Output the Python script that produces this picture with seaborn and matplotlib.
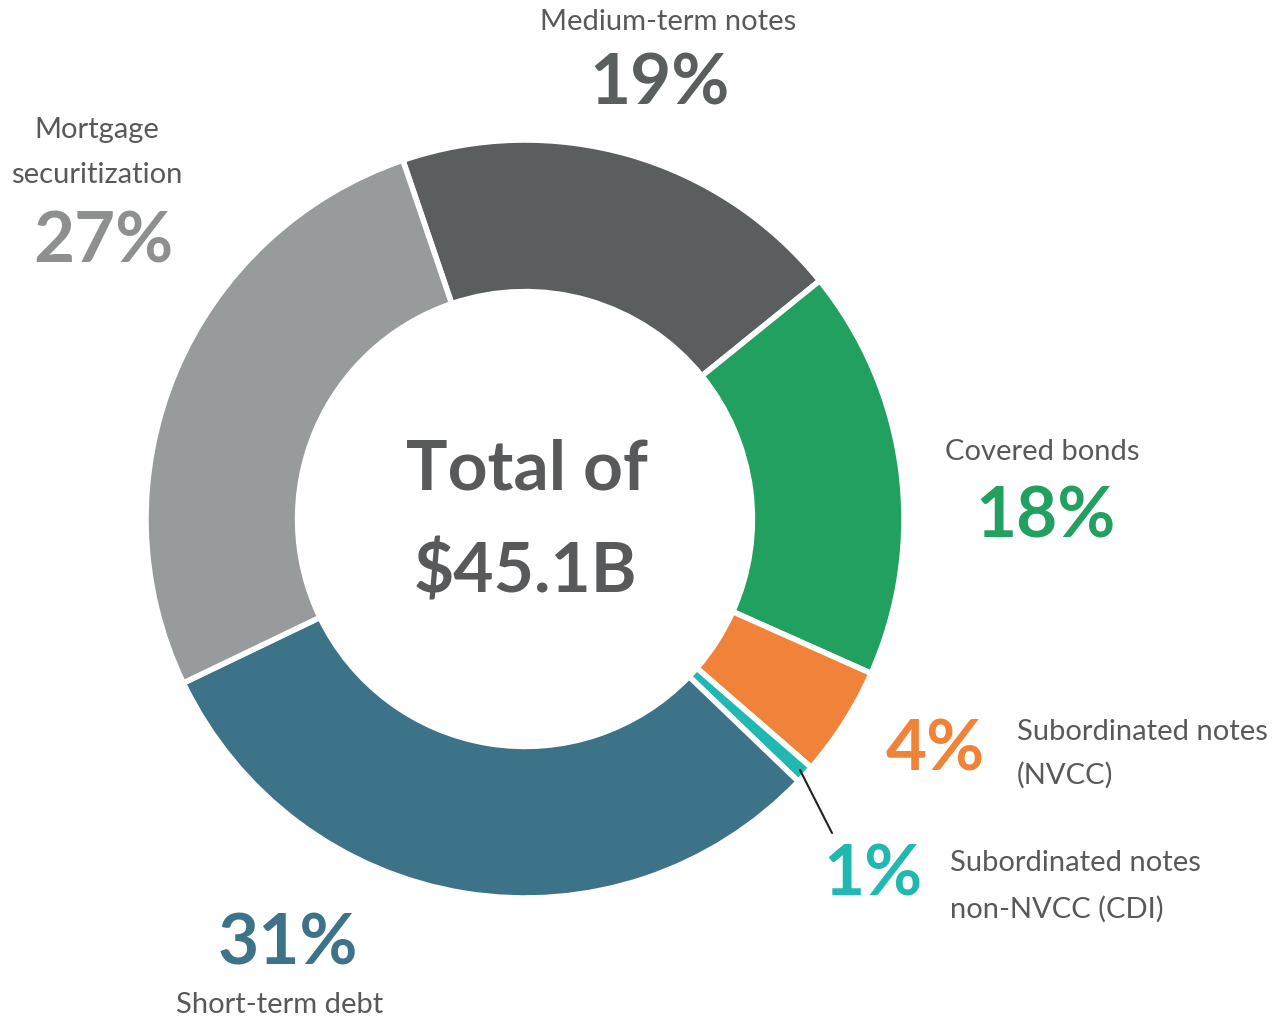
import matplotlib
matplotlib.use("Agg")
import matplotlib.pyplot as plt
import seaborn as sns

sns.set_theme(style="white")
plt.rcParams['font.family'] = ['Lato', 'DejaVu Sans']

# Data
categories = ["Medium-term notes", "Covered bonds", "Subordinated notes (NVCC)",
              "Subordinated notes non-NVCC (CDI)", "Short-term debt", "Mortgage securitization"]
shares = [19.4, 17.5, 4.7, 0.8, 30.7, 26.9]
pct_labels = ["19%", "18%", "4%", "1%", "31%", "27%"]
colors = ["#5a5e5f", "#21a060", "#f0823a", "#20b8b0", "#3c7389", "#989b9b"]
total_label = ["Total of", "$45.1B"]

W, H = 1273, 1025
fig = plt.figure(figsize=(W / 100, H / 100), dpi=100)
ax = fig.add_axes([0, 0, 1, 1])

cx, cy, R = 525, H - 519, 379
ax.pie(shares, colors=colors, startangle=108.8, counterclock=False,
       center=(cx, cy), radius=R, frame=True,
       wedgeprops=dict(width=R * 0.40, edgecolor="white", linewidth=4))
ax.set_xlim(0, W)
ax.set_ylim(0, H)
ax.set_aspect("equal")
ax.axis("off")

def T(x, y, s, size, color, weight="normal", ha="center"):
    ax.text(x, H - y, s, fontsize=size, color=color, fontweight=weight,
            ha=ha, va="center")

lab = "#58595b"
LS = 21
PS = 51
T(668, 22, "Medium-term notes", LS, lab)
T(660, 84, pct_labels[0], PS, colors[0], "bold")
T(97, 130, "Mortgage", LS, lab)
T(97, 175, "securitization", LS, lab)
T(103, 242, pct_labels[5], PS, "#8e9090", "bold")
T(1042, 452, "Covered bonds", LS, lab)
T(1046, 517, pct_labels[1], PS, colors[1], "bold")
T(935, 750, pct_labels[2], PS, colors[2], "bold")
T(1017, 732, "Subordinated notes", LS, lab, ha="left")
T(1017, 775, "(NVCC)", LS, lab, ha="left")
T(873, 875, pct_labels[3], PS, colors[3], "bold")
T(950, 863, "Subordinated notes", LS, lab, ha="left")
T(950, 909, "non-NVCC (CDI)", LS, lab, ha="left")
T(288, 944, pct_labels[4], PS, colors[4], "bold")
T(280, 1005, "Short-term debt", LS, lab)
T(527, 470, total_label[0], 50, lab, "bold")
T(525, 572, total_label[1], 50, lab, "bold")

ax.plot([800, 832], [H - 770, H - 833], color="#222222", lw=1.5)

fig.savefig("out.png", dpi=100, facecolor="white")
